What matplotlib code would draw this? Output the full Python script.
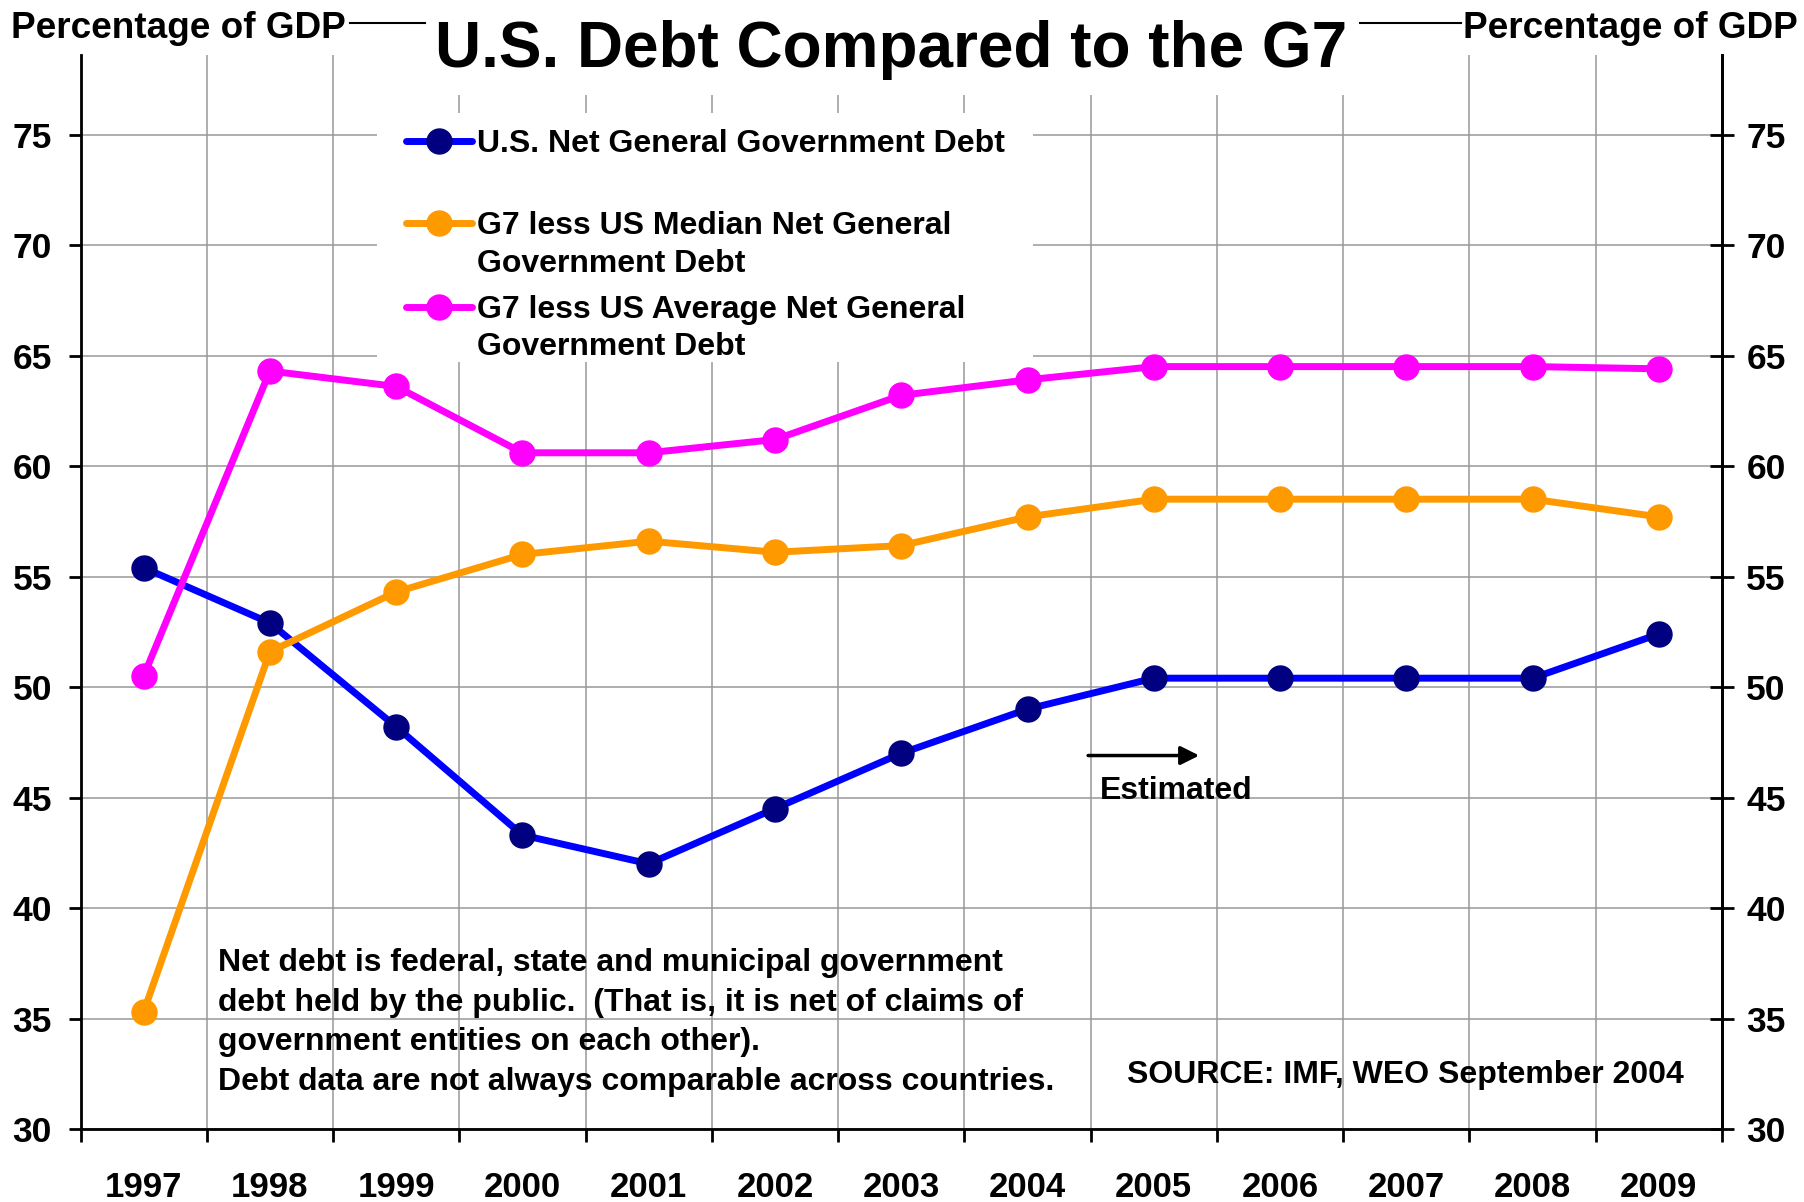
import matplotlib
matplotlib.use("Agg")
import matplotlib.pyplot as plt
from matplotlib.patches import Rectangle
from matplotlib.lines import Line2D
import numpy as np

plt.rcParams['font.family'] = ['Liberation Sans', 'DejaVu Sans']
plt.rcParams['font.weight'] = 'bold'

years = ['1997', '1998', '1999', '2000', '2001', '2002', '2003',
         '2004', '2005', '2006', '2007', '2008', '2009']
us_debt = [55.4, 52.9, 48.2, 43.3, 42.0, 44.5, 47.0, 49.0, 50.4, 50.4, 50.4, 50.4, 52.4]
g7_median = [35.3, 51.6, 54.3, 56.0, 56.6, 56.1, 56.4, 57.7, 58.5, 58.5, 58.5, 58.5, 57.7]
g7_average = [50.5, 64.3, 63.6, 60.6, 60.6, 61.2, 63.2, 63.9, 64.5, 64.5, 64.5, 64.5, 64.4]
yticks = [30, 35, 40, 45, 50, 55, 60, 65, 70, 75]

series = [
    (us_debt, '#0000FF', '#000080', ['U.S. Net General Government Debt']),
    (g7_median, '#FF9900', '#FF9900', ['G7 less US Median Net General', 'Government Debt']),
    (g7_average, '#FF00FF', '#FF00FF', ['G7 less US Average Net General', 'Government Debt']),
]

W, H = 1804, 1202
fig = plt.figure(figsize=(W / 100, H / 100), dpi=100)
L, R, B, T = 80.5, 1722, 1129, 55
ax = fig.add_axes([L / W, 1 - B / H, (R - L) / W, (B - T) / H])

x = np.arange(len(years))
ax.set_xlim(-0.5, len(years) - 0.5)
ax.set_ylim(30, 78.6)
ax.set_axisbelow(True)

grid_c = '#999999'
ax.set_xticks(x)
ax.set_xticklabels(years, fontsize=25, fontweight='bold')
ax.set_xticks(np.arange(-0.5, len(years), 1.0), minor=True)
ax.tick_params(axis='x', which='major', length=0, pad=30)
ax.tick_params(axis='x', which='minor', length=9, width=2, direction='out')
ax.grid(True, axis='x', which='minor', color=grid_c, lw=1.1)
ax.set_yticks(yticks)
ax.set_yticklabels([str(v) for v in yticks], fontsize=25.5, fontweight='bold')
ax.tick_params(axis='y', which='major', length=8.6, width=2, direction='out', pad=12)
ax.grid(True, axis='y', which='major', color=grid_c, lw=1.1)

ax.spines['top'].set_visible(False)
for s in ['left', 'bottom', 'right']:
    ax.spines[s].set_linewidth(2)
    ax.spines[s].set_color('black')

ax2 = ax.twinx()
ax2.set_ylim(ax.get_ylim())
ax2.set_yticks(yticks)
ax2.set_yticklabels([str(v) for v in yticks], fontsize=25.5, fontweight='bold')
ax2.tick_params(axis='y', length=17, width=2, direction='inout', pad=9)
ax2.spines['top'].set_visible(False)
ax2.spines['right'].set_linewidth(2)

LW, MS = 5, 18
for vals, lc, mc, lab in series:
    ax.plot(x, vals, color=lc, lw=LW, marker='o', ms=MS,
            markerfacecolor=mc, markeredgecolor=mc, zorder=3,
            solid_capstyle='round')

# legend box (covers grid)
def axx(px):
    return (px - L) / (R - L)

def axy(py):
    return (B - py) / (B - T)

ax.add_patch(Rectangle((axx(377), axy(362)), axx(1033) - axx(377), axy(113) - axy(362),
                       transform=ax.transAxes, facecolor='white', edgecolor='none', zorder=1))
rows = [[143.5], [225.5, 263.5], [309.5, 346.5]]
for (vals, lc, mc, lab), ys in zip(series, rows):
    ax.add_line(Line2D([axx(406), axx(472)], [axy(ys[0] - 3)] * 2, transform=ax.transAxes,
                       color=lc, lw=LW, solid_capstyle='round', zorder=4))
    ax.add_line(Line2D([axx(439)], [axy(ys[0] - 3)], transform=ax.transAxes, marker='o', ms=MS,
                       markerfacecolor=mc, markeredgecolor=mc, zorder=5))
    for txt, yy in zip(lab, ys):
        ax.text(axx(477), axy(yy), txt, transform=ax.transAxes, fontsize=23,
                fontweight='bold', va='center', ha='left', zorder=5)

# annotations
ax.text(0.59, 34.82, "Net debt is federal, state and municipal government\n"
        "debt held by the public.  (That is, it is net of claims of\n"
        "government entities on each other).\n"
        "Debt data are not always comparable across countries.",
        fontsize=23, fontweight='bold', va='center', ha='left', linespacing=1.42, zorder=5)
ax.text(7.79, 32.44, "SOURCE: IMF, WEO September 2004", fontsize=23, fontweight='bold',
        va='center', ha='left', zorder=5)
ax.text(7.57, 45.3, "Estimated", fontsize=23, fontweight='bold', va='center', ha='left', zorder=5)
ax.annotate('', xy=(8.36, 46.9), xytext=(7.48, 46.9),
            arrowprops=dict(arrowstyle='-|>', color='black', lw=2.5, mutation_scale=28,
                            shrinkA=0, shrinkB=0), zorder=5)

# header
fig.add_artist(Rectangle((425 / W, 1 - 95 / H), (1360 - 425) / W, 95 / H,
                         transform=fig.transFigure, facecolor='white', edgecolor='none', zorder=3))
fig.add_artist(Line2D([350 / W, 425 / W], [1 - 23 / H] * 2, transform=fig.transFigure,
                      color='black', lw=1.5, zorder=4))
fig.add_artist(Line2D([1360 / W, 1461 / W], [1 - 23 / H] * 2, transform=fig.transFigure,
                      color='black', lw=1.5, zorder=4))
fig.text(891.5 / W, 1 - 67 / H, "U.S. Debt Compared to the G7", fontsize=46,
         fontweight='bold', ha='center', va='baseline', zorder=5)
fig.text(11 / W, 1 - 38 / H, "Percentage of GDP", fontsize=26.6, fontweight='bold',
         ha='left', va='baseline', zorder=5)
fig.text(1798 / W, 1 - 38 / H, "Percentage of GDP", fontsize=26.6, fontweight='bold',
         ha='right', va='baseline', zorder=5)

fig.savefig('out.png', dpi=100, facecolor='white')
